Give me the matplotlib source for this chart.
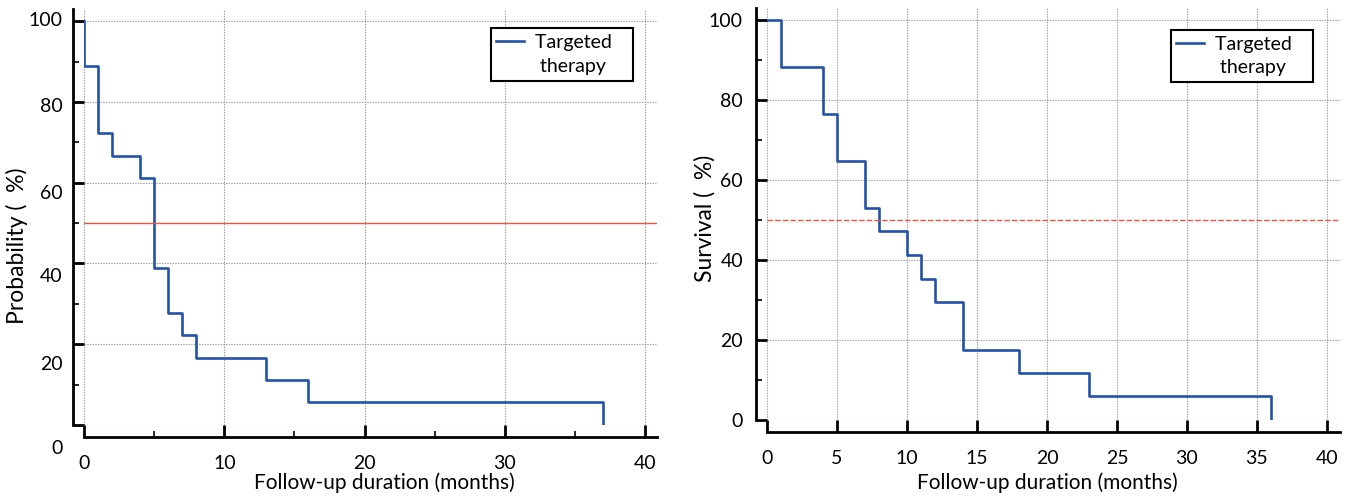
import numpy as np
import matplotlib
matplotlib.use("Agg")
import matplotlib.pyplot as plt
from matplotlib.lines import Line2D
from matplotlib.transforms import blended_transform_factory
from matplotlib.ticker import MultipleLocator

plt.rcParams['font.family'] = ['Lato', 'DejaVu Sans']

# Left panel: probability curve
left_times = [0, 0, 1, 2, 4, 5, 6, 7, 8, 13, 16, 37]
left_surv = [100, 88.9, 72.2, 66.7, 61.1, 38.9, 27.8, 22.2, 16.7, 11.1, 5.6, 0]
# y tick label positions in the original are shifted from the gridlines
left_ylabels = ['100', '80', '60', '40', '20', '0']
left_ylabel_pos = [100.2, 78.9, 57.4, 36.7, 15.1, -5.9]

# Right panel: survival curve
right_times = [0, 1, 4, 5, 7, 8, 10, 11, 12, 14, 18, 23, 36]
right_surv = [100, 88.2, 76.5, 64.7, 52.9, 47.1, 41.2, 35.3, 29.4, 17.6, 11.8, 5.9, 0]

BLUE = '#2353a8'
RED = '#e8563f'
FS = 14
LFS = 15
YFS = 16.5

fig = plt.figure(figsize=(13.52, 4.96), dpi=100)
ax1 = fig.add_axes([84/1352, (496-425)/496, 573/1352, 416/496])
ax2 = fig.add_axes([767/1352, (496-420)/496, 573/1352, 412/496])


def style_axes(ax, xmaj, xmin, offset_x, offset_y):
    for s in ['top', 'right']:
        ax.spines[s].set_visible(False)
    ax.spines['left'].set_position(('outward', offset_x * 0.72))
    ax.spines['bottom'].set_position(('outward', offset_y * 0.72))
    for s in ['left', 'bottom']:
        ax.spines[s].set_linewidth(2.0)
    ax.xaxis.set_major_locator(MultipleLocator(xmaj))
    if xmin:
        ax.xaxis.set_minor_locator(MultipleLocator(xmin))
    ax.yaxis.set_major_locator(MultipleLocator(20))
    ax.yaxis.set_minor_locator(MultipleLocator(10))
    ax.tick_params(axis='x', which='major', direction='in', length=offset_y * 0.72,
                   width=2.0, labelsize=FS, pad=offset_y * 0.72 + 4)
    ax.tick_params(axis='y', which='major', direction='in', length=offset_x * 0.72,
                   width=2.0, labelsize=FS, pad=offset_x * 0.72 + 1.5)
    ax.tick_params(which='minor', direction='in', length=4, width=1.2)
    ax.grid(True, which='major', color='#9a9a9a', linestyle=(0, (1.2, 1.2)), linewidth=0.8)
    ax.set_axisbelow(True)


def stairs(ax, times, surv):
    # Kaplan-Meier style step: drop at each time, ends with vertical drop
    ax.step(times, surv, where='post', color=BLUE, linewidth=1.9, label='Targeted')


def legend(ax, anchor):
    h = [Line2D([], [], color=BLUE, linewidth=1.9), Line2D([], [], color='none')]
    leg = ax.legend(h, ['Targeted   ', ' therapy'], loc='upper right', bbox_to_anchor=anchor,
                    fontsize=FS, frameon=True, fancybox=False, framealpha=1,
                    edgecolor='black', handlelength=1.4, handletextpad=0.6,
                    labelspacing=0.35, borderpad=0.3, borderaxespad=0)
    leg.get_frame().set_linewidth(1.5)


# left
style_axes(ax1, 10, 5, 11, 12)
stairs(ax1, left_times, left_surv)
ax1.axhline(50, color=RED, linewidth=1.0)
ax1.set_xlim(0, 40.84)
ax1.set_ylim(0, 103)
ax1.set_yticklabels([])
tr = blended_transform_factory(ax1.transAxes, ax1.transData)
for lab, pos in zip(left_ylabels, left_ylabel_pos):
    ax1.text(-0.037, pos, lab, transform=tr, ha='right', va='center', fontsize=FS,
             clip_on=False)
ax1.set_ylabel('Probability (  %)', fontsize=YFS)
ax1.yaxis.set_label_coords(-0.098, 0.43)
ax1.set_xlabel('Follow-up duration (months)', fontsize=LFS)
ax1.xaxis.set_label_coords(0.524, -0.113)
legend(ax1, (0.958, 0.954))

# right
style_axes(ax2, 5, None, 11, 12)
stairs(ax2, right_times, right_surv)
ax2.axhline(50, color=RED, linewidth=1.0, linestyle=(0, (4, 1.5)))
ax2.set_xlim(0, 40.93)
ax2.set_ylim(0, 102.9)
ax2.set_ylabel('Survival (  %)', fontsize=YFS)
ax2.yaxis.set_label_coords(-0.090, 0.49)
ax2.set_xlabel('Follow-up duration (months)', fontsize=LFS)
ax2.xaxis.set_label_coords(0.490, -0.126)
legend(ax2, (0.953, 0.947))

fig.savefig('out.png', dpi=100)
